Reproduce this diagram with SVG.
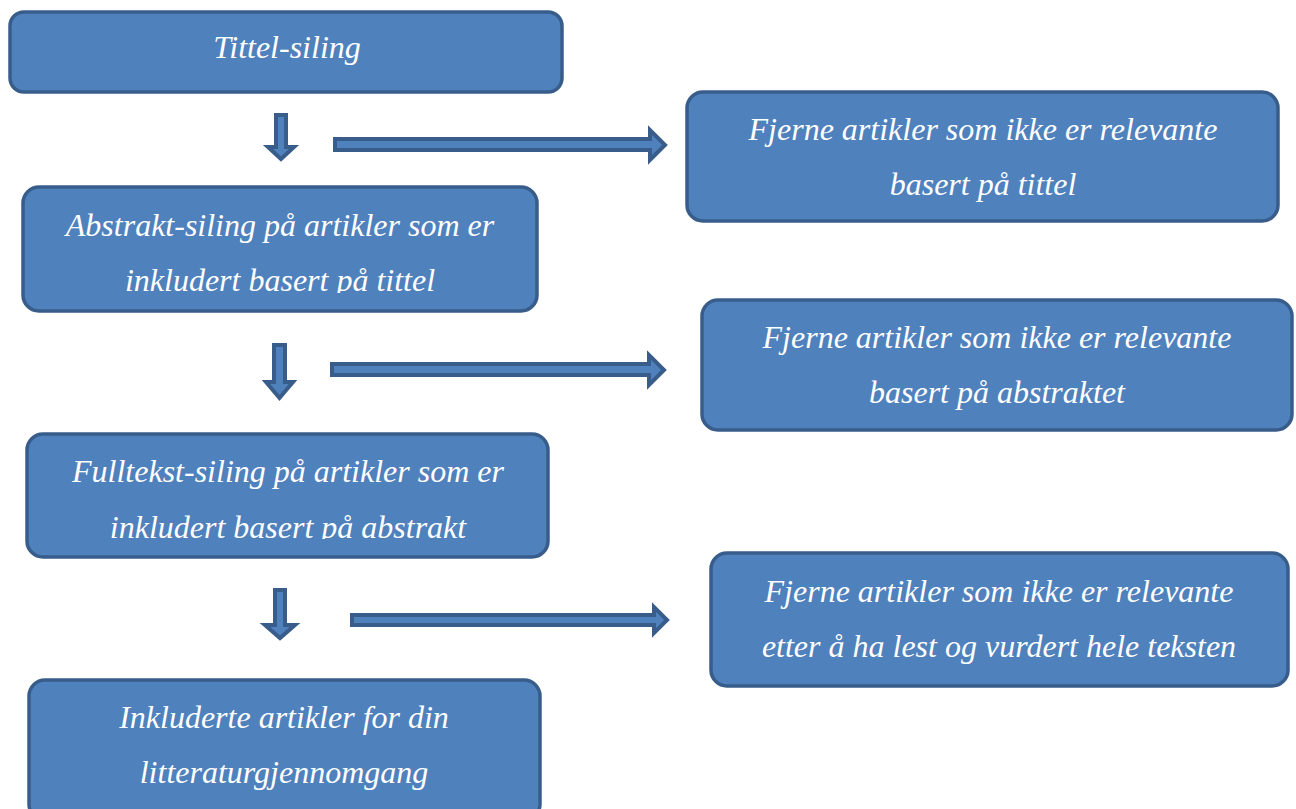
<svg xmlns="http://www.w3.org/2000/svg" width="1296" height="809" viewBox="0 0 1296 809">
<defs>
<style>
.box{fill:#4F81BD;stroke:#385D8A;stroke-width:3.5}
.arr{fill:#4F81BD;stroke:#385D8A;stroke-width:4;stroke-linejoin:miter}
.t{font-family:"Times New Roman", "Liberation Serif", serif;font-style:italic;font-size:32px;fill:#FFFFFF;text-anchor:middle}
</style>
<clipPath id="c2"><rect x="0" y="0" width="1296" height="293"/></clipPath>
<clipPath id="c3"><rect x="0" y="0" width="1296" height="539"/></clipPath>
</defs>
<rect width="1296" height="809" fill="#FFFFFF"/>
<g id="n1">
<rect class="box" x="10" y="12" width="552" height="80" rx="14"/>
<text class="t" x="287" y="58">Tittel-siling</text>
</g>
<g id="r1">
<rect class="box" x="687" y="92" width="591" height="129" rx="16"/>
<text class="t" x="983" y="140">Fjerne artikler som ikke er relevante</text>
<text class="t" x="983" y="195">basert på tittel</text>
</g>
<g id="n2">
<rect class="box" x="23" y="187" width="514" height="124" rx="16"/>
<text class="t" x="280" y="236">Abstrakt-siling på artikler som er</text>
<text class="t" x="280" y="291" clip-path="url(#c2)">inkludert basert på tittel</text>
</g>
<g id="r2">
<rect class="box" x="702" y="300" width="590" height="130" rx="16"/>
<text class="t" x="997" y="348">Fjerne artikler som ikke er relevante</text>
<text class="t" x="997" y="403">basert på abstraktet</text>
</g>
<g id="n3">
<rect class="box" x="27" y="434" width="521" height="123" rx="16"/>
<text class="t" x="288" y="482">Fulltekst-siling på artikler som er</text>
<text class="t" x="288" y="538" clip-path="url(#c3)">inkludert basert på abstrakt</text>
</g>
<g id="r3">
<rect class="box" x="711" y="553" width="577" height="133" rx="16"/>
<text class="t" x="999" y="602">Fjerne artikler som ikke er relevante</text>
<text class="t" x="999" y="657">etter å ha lest og vurdert hele teksten</text>
</g>
<g id="n4">
<rect class="box" x="29" y="680" width="511" height="140" rx="16"/>
<text class="t" x="284" y="728">Inkluderte artikler for din</text>
<text class="t" x="284" y="783">litteraturgjennomgang</text>
</g>
<g id="connectors">
<path class="arr" d="M276,115 H286 V147 H294 L281,159 L268,147 H276 Z"/>
<path class="arr" d="M335,139 H650 V130 L665,145 L650,160 V150 H335 Z"/>
<path class="arr" d="M274,345 H285 V382 H293 L279.5,398 L266,382 H274 Z"/>
<path class="arr" d="M332,364 H649 V355 L664,370 L649,385 V375 H332 Z"/>
<path class="arr" d="M275,590 H285 V625 H295 L280,638 L265,625 H275 Z"/>
<path class="arr" d="M352,615 H654 V607 L667,620 L654,633 V625 H352 Z"/>
</g>
</svg>
